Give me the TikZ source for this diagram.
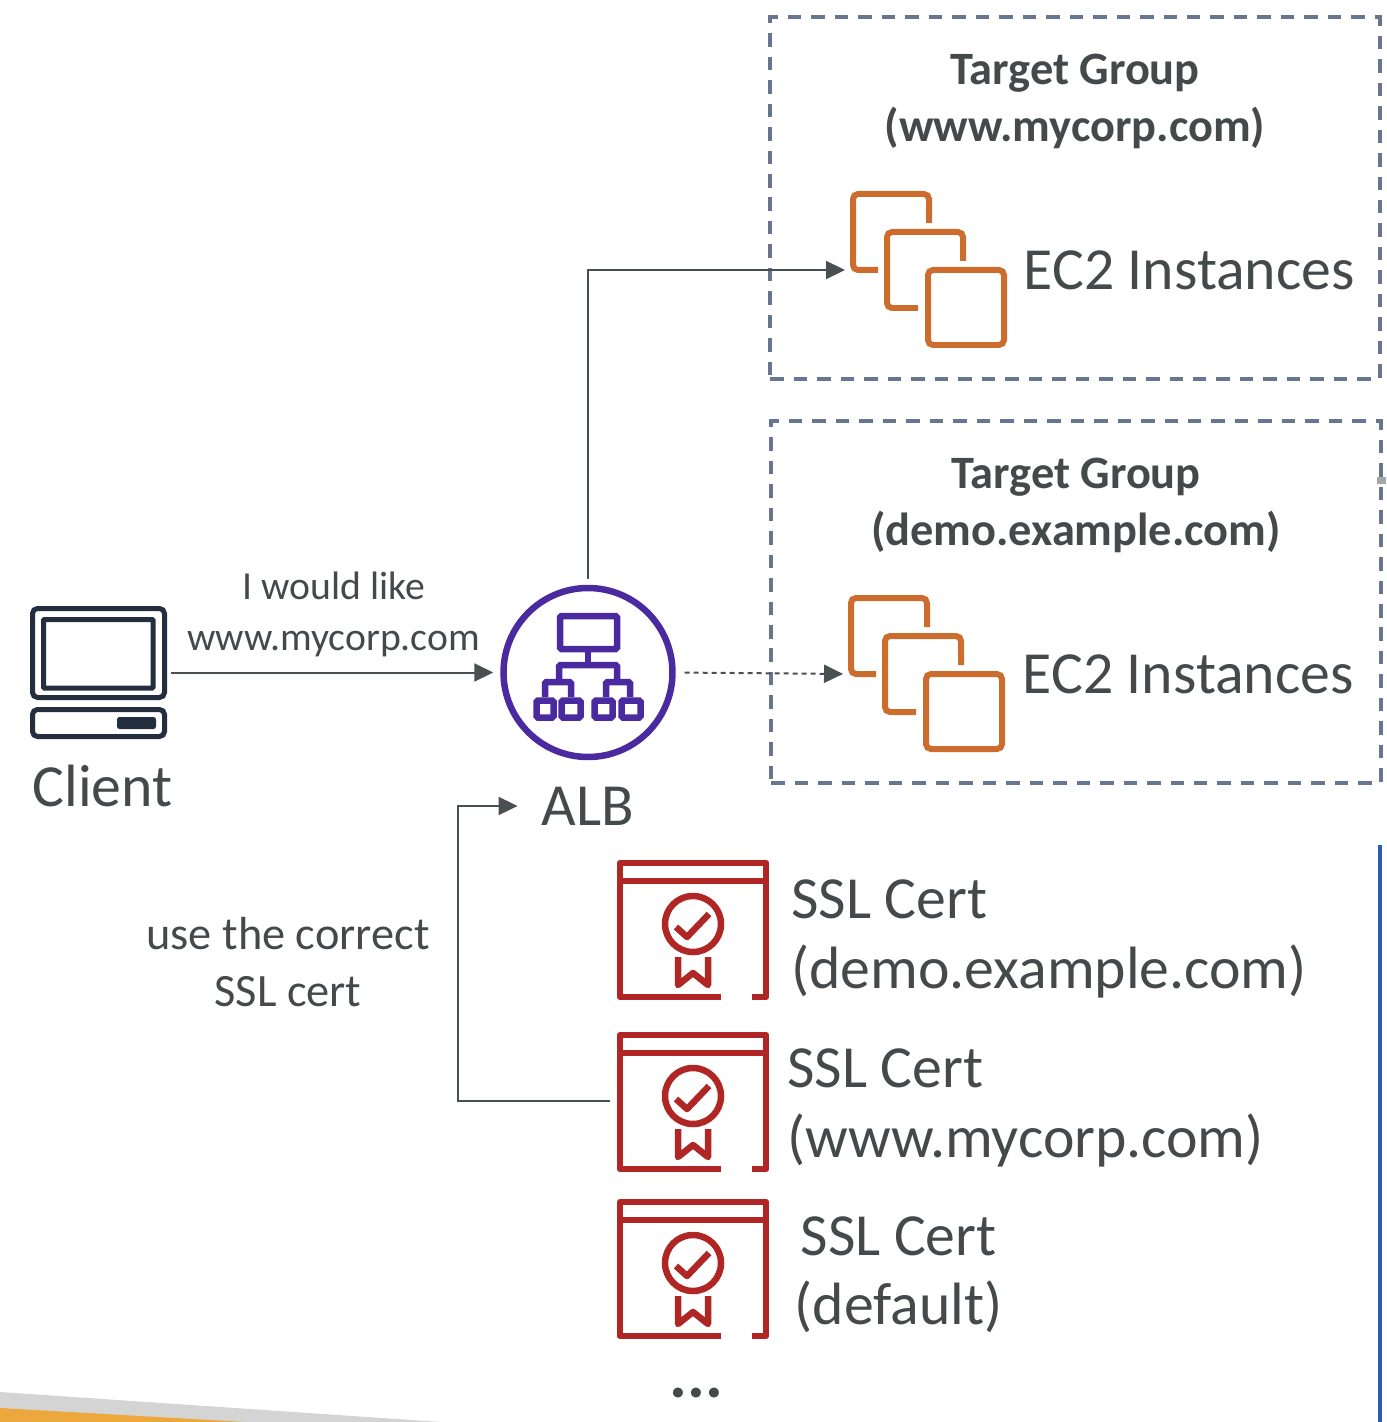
\documentclass[tikz,border=0pt]{standalone}
\usepackage{fontspec}
\setmainfont{Carlito}
\usetikzlibrary{arrows.meta}
\definecolor{inkdark}{RGB}{35, 47, 62}
\definecolor{textgrey}{RGB}{68, 74, 76}
\definecolor{linegrey}{RGB}{74, 79, 82}
\definecolor{albviolet}{RGB}{75, 42, 160}
\definecolor{ecorange}{RGB}{204, 109, 46}
\definecolor{certred}{RGB}{176, 38, 36}
\definecolor{groupslate}{RGB}{104, 117, 144}
\definecolor{slideblue}{RGB}{42, 92, 176}
\definecolor{slidegrey}{RGB}{212, 212, 212}
\definecolor{slideorange}{RGB}{236, 168, 60}

% Three overlapping squares, origin at the top left of the first square
\newcommand{\ecstack}[3]{
	\begin{scope}[shift={(#2,#3)}]
		\node[iconbox, minimum width=3.14cm, minimum height=3.14cm] (#1) at (78.5,79) {};
		\draw[ecline] (79,32) -- (79,3) -- (3,3) -- (3,79) -- (28,79);
		\draw[ecline] (113,70) -- (113,41) -- (37,41) -- (37,117) -- (68,117);
		\draw[ecline] (78,79) rectangle (154,154);
	\end{scope}
}

% Certificate window with rosette, origin at the top left of the window
\newcommand{\certicon}[3]{
	\begin{scope}[shift={(#2,#3)}]
		\node[iconbox, minimum width=3.04cm, minimum height=2.8cm] (#1) at (76,69) {};
		\draw[certline] (104,137) -- (3,137) -- (3,3) -- (149,3) -- (149,137) -- (135,137);
		\draw[certline] (3,21) -- (149,21);
		\draw[certline] (76,64) circle (28);
		\draw[certline] (59,67) -- (70,77) -- (92,54);
		\draw[certline] (61,97) -- (61,125) -- (76,113) -- (91,125) -- (91,97);
	\end{scope}
}

\begin{document}
\begin{tikzpicture}[
	x=0.02cm, y=-0.02cm,
	>=Stealth,
	font=\fontsize{34}{39.5}\selectfont,
	% Styles for the icons
	iconbox/.style={inner sep=0pt, outer sep=0pt},
	ecline/.style={draw=ecorange, line width=0.12cm, rounded corners=0.1cm},
	certline/.style={draw=certred, line width=0.13cm, line join=round},
	albline/.style={draw=albviolet, line width=0.13cm, rounded corners=0.03cm},
	clientline/.style={draw=inkdark, line width=0.1cm, rounded corners=0.1cm},
	% Styles for the boxes and connectors
	groupbox/.style={draw=groupslate, line width=0.065cm, dash pattern=on 0.27cm off 0.2cm},
	link/.style={-{Triangle[length=0.38cm, width=0.36cm]}, draw=linegrey, line width=0.04cm},
	% Styles for the text
	bigtext/.style={text=textgrey, inner sep=0pt},
	grouptitle/.style={text=textgrey, inner sep=0pt, align=center, font=\fontsize{26.4}{32}\selectfont\bfseries},
	smalltext/.style={text=textgrey, inner sep=0pt, align=center, font=\fontsize{22.6}{29}\selectfont}
	]
	
	% ==========================================
	% 1. SLIDE LEFTOVERS
	% ==========================================
	\useasboundingbox (0,0) rectangle (1386,1422);
	\fill[slidegrey] (0,1392) -- (441,1422) -- (0,1422) -- cycle;
	\fill[slideorange] (0,1408) -- (245,1422) -- (0,1422) -- cycle;
	\draw[slideblue, line width=0.07cm] (1380,845) -- (1380,1422);
	
	% ==========================================
	% 2. CLIENT
	% ==========================================
	\node[iconbox, minimum width=2.74cm, minimum height=2.66cm] (client) at (98.5,672.5) {};
	\draw[clientline] (32.5,608.5) rectangle (164.5,697.5);
	\draw[clientline, rounded corners=0.02cm] (43.5,619.5) rectangle (153,688);
	\draw[clientline] (32.5,709.5) rectangle (164.5,736.5);
	\fill[inkdark, rounded corners=0.05cm] (117,717) rectangle (156,729);
	\node[bigtext] (clientname) at (102.5,786) {Client};
	
	% ==========================================
	% 3. LOAD BALANCER
	% ==========================================
	\node[circle, draw=albviolet, line width=0.13cm, minimum size=3.38cm, inner sep=0pt] (alb) at (588,672.5) {};
	\draw[albline] (560,616) rectangle (617,649);
	\draw[albline] (588,652) -- (588,665);
	\draw[albline] (559,679) -- (559,665) -- (617,665) -- (617,679);
	\draw[albline] (545,697) -- (545,682) -- (571,682) -- (571,697);
	\draw[albline] (606,697) -- (606,682) -- (630,682) -- (630,697);
	\foreach \boxleft/\boxright in {536.5/553.5, 561.5/580.5, 594.5/612.5, 621.5/640.5}
		\draw[albline] (\boxleft,700.5) rectangle (\boxright,717.5);
	\node[bigtext] (albname) at (588,806) {ALB};
	
	% ==========================================
	% 4. TARGET GROUPS
	% ==========================================
	\node[groupbox, inner sep=0pt, minimum width=12.2cm, minimum height=7.24cm] (groupA) at (1075,198) {};
	\node[grouptitle] (titleA) at (1075,101.5) {Target Group\\(www.mycorp.com)};
	\ecstack{ecA}{850}{191}
	\node[bigtext, anchor=west] (ecnameA) at (1023.5,270) {EC2 Instances};
	
	\node[groupbox, inner sep=0pt, minimum width=12.2cm, minimum height=7.24cm] (groupB) at (1076,602) {};
	\node[grouptitle] (titleB) at (1076,505.5) {Target Group\\(demo.example.com)};
	\ecstack{ecB}{848}{595}
	\node[bigtext, anchor=west] (ecnameB) at (1022.5,674) {EC2 Instances};
	
	% ==========================================
	% 5. CERTIFICATES
	% ==========================================
	\certicon{certA}{617}{860}
	\node[bigtext, anchor=west, align=left] (certnameA) at (791,939) {SSL Cert\\(demo.example.com)};
	\certicon{certB}{617}{1032}
	\node[bigtext, anchor=west, align=left] (certnameB) at (787,1108) {SSL Cert\\(www.mycorp.com)};
	\certicon{certC}{617}{1199}
	\node[bigtext, anchor=west, align=center] (certnameC) at (794.5,1275) {SSL Cert\\(default)};
	\node[text=textgrey, inner sep=0pt, font=\fontsize{38}{39}\selectfont\bfseries] (moredots) at (696.5,1393) {...};
	
	% ==========================================
	% 6. CONNECTORS
	% ==========================================
	\coordinate (certbend) at (458,950);
	\draw[link, shorten <=0.08cm, shorten >=0.14cm] (client.east) -- (alb.west)
		node[pos=0.5, above=0.3cm, smalltext] (wish) {I would like\\www.mycorp.com};
	\draw[link, shorten <=0.12cm, shorten >=0.1cm] (alb.north) |- (ecA.west);
	\draw[link, dash pattern=on 0.1cm off 0.08cm, shorten <=0.18cm, shorten >=0.1cm] (alb.east) -- (ecB.west);
	\draw[link, shorten <=0.14cm, shorten >=0.48cm] (certB.west) -| (certbend) |- (albname.west);
	\node[text=textgrey, inner sep=0pt, align=center, font=\fontsize{26.4}{32}\selectfont] (certnote) at (288,962) {use the correct\\SSL cert};
	
	% Small grey handle on the edge of the lower box
	\fill[black!35] (1377,477) rectangle (1386,484);
	
\end{tikzpicture}
\end{document}
